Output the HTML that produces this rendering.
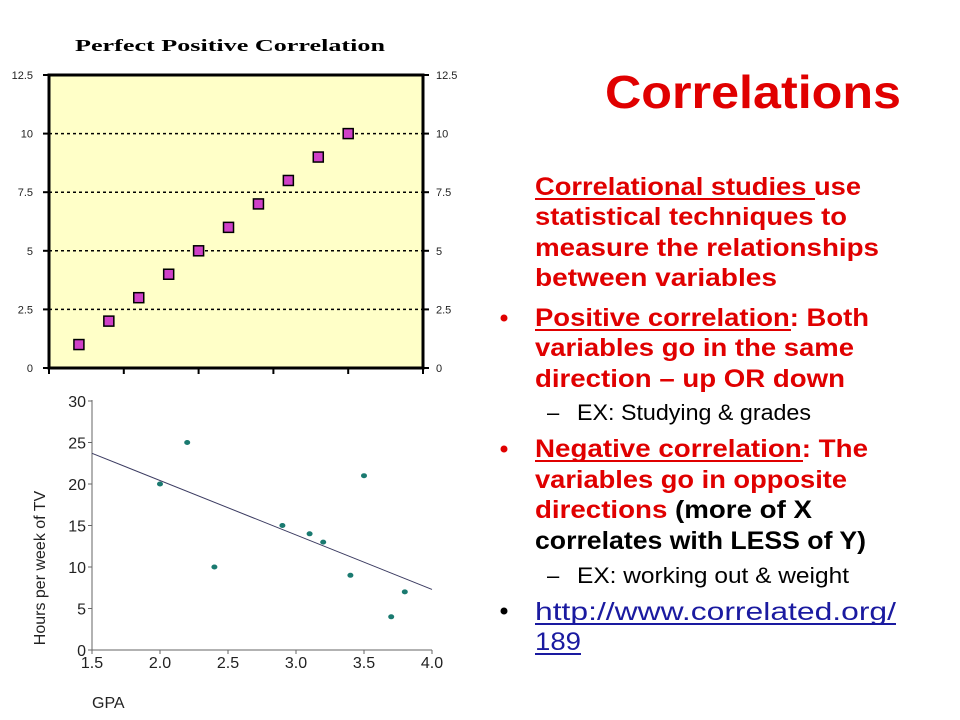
<!DOCTYPE html>
<html><head><meta charset="utf-8"><style>
html,body{margin:0;padding:0;background:#fff}
svg{display:block;font-family:"Liberation Sans",sans-serif}
</style></head><body>
<svg width="960" height="720" viewBox="0 0 960 720" xmlns="http://www.w3.org/2000/svg">
<rect width="960" height="720" fill="#fff"/>
<g id="topChart"></g>
<g id="botChart"></g>
<g font-weight="bold" font-size="25" fill="#e00000">
<text x="605" y="108" font-size="46" textLength="296" lengthAdjust="spacingAndGlyphs">Correlations</text>
<text x="535" y="195" textLength="326" lengthAdjust="spacingAndGlyphs">Correlational studies use</text>
<text x="535" y="225" textLength="312" lengthAdjust="spacingAndGlyphs">statistical techniques to</text>
<text x="535" y="256" textLength="344" lengthAdjust="spacingAndGlyphs">measure the relationships</text>
<text x="535" y="286" textLength="242" lengthAdjust="spacingAndGlyphs">between variables</text>
<text x="535" y="326" textLength="334" lengthAdjust="spacingAndGlyphs">Positive correlation: Both</text>
<text x="535" y="356" textLength="319" lengthAdjust="spacingAndGlyphs">variables go in the same</text>
<text x="535" y="387" textLength="310" lengthAdjust="spacingAndGlyphs">direction – up OR down</text>
<text x="535" y="457" textLength="333" lengthAdjust="spacingAndGlyphs">Negative correlation: The</text>
<text x="535" y="488" textLength="312" lengthAdjust="spacingAndGlyphs">variables go in opposite</text>
<text x="535" y="518" textLength="277" lengthAdjust="spacingAndGlyphs">directions <tspan fill="#000">(more of X</tspan></text>
<text x="535" y="549" fill="#000" textLength="331" lengthAdjust="spacingAndGlyphs">correlates with LESS of Y)</text>
<g font-weight="normal" fill="#000" font-size="22">
<text x="547" y="420">–</text><text x="577" y="420" textLength="234" lengthAdjust="spacingAndGlyphs">EX: Studying &amp; grades</text>
<text x="547" y="583">–</text><text x="577" y="583" textLength="272" lengthAdjust="spacingAndGlyphs">EX: working out &amp; weight</text>
</g>
<g font-weight="normal" fill="#1a1aa0">
<text x="535" y="620" textLength="361" lengthAdjust="spacingAndGlyphs">http://www.correlated.org/</text>
<text x="535" y="650" textLength="46" lengthAdjust="spacingAndGlyphs">189</text>
</g>
<g fill="#e00000"><circle cx="504" cy="318" r="3.5"/><circle cx="504" cy="449" r="3.5"/></g>
<circle cx="504" cy="611" r="3.5" fill="#000"/>
<g stroke-width="2">
<line x1="535" y1="199" x2="815" y2="199" stroke="#e00000"/>
<line x1="535" y1="330" x2="791" y2="330" stroke="#e00000"/>
<line x1="535" y1="461" x2="803" y2="461" stroke="#e00000"/>
<line x1="535" y1="624" x2="896" y2="624" stroke="#1a1aa0"/>
<line x1="535" y1="654" x2="581" y2="654" stroke="#1a1aa0"/>
</g>
</g>
</svg>
<script>
const NS="http://www.w3.org/2000/svg";
function mk(p,tag,a){const e=document.createElementNS(NS,tag);for(const k in a)e.setAttribute(k,a[k]);p.appendChild(e);return e;}
// top chart data
const topX=[1,2,3,4,5,6,7,8,9,10];
const topY=[1,2,3,4,5,6,7,8,9,10];
const topTicks=[0,2.5,5,7.5,10,12.5];
const topTickLabels=["0","2.5","5","7.5","10","12.5"];
// bottom chart data
const gpa=[2.0,2.2,2.4,2.9,3.1,3.2,3.4,3.5,3.7,3.8];
const tvHours=[20,25,10,15,14,13,9,21,4,7];
const fitLine=[23.7,7.3];
const yTicksB=[0,5,10,15,20,25,30];
const xTicksB=[1.5,2.0,2.5,3.0,3.5,4.0];
const xTickLabelsB=["1.5","2.0","2.5","3.0","3.5","4.0"];

const topG=document.getElementById('topChart');
const tx=v=>49+v*(374/12.5), ty=v=>368-v*(293/12.5);
let t=mk(topG,'text',{x:230,y:51,'text-anchor':'middle','font-family':'Liberation Serif,serif','font-weight':'bold','font-size':17,textLength:310,lengthAdjust:'spacingAndGlyphs'});
t.textContent="Perfect Positive Correlation";


mk(topG,'rect',{x:49,y:75,width:374,height:293,fill:'#ffffc8'});
topTicks.forEach((v,i)=>{
 if(v>0&&v<12.5){const g=mk(topG,'line',{x1:49,x2:423,y1:ty(v),y2:ty(v),stroke:'#000','stroke-width':1.5,'stroke-dasharray':'3,3'});
  
  }
 mk(topG,'line',{x1:43,x2:49,y1:ty(v),y2:ty(v),stroke:'#000','stroke-width':2});
 mk(topG,'line',{x1:423,x2:429,y1:ty(v),y2:ty(v),stroke:'#000','stroke-width':2});
 const l=mk(topG,'text',{x:33,y:ty(v)+4,'text-anchor':'end','font-size':11,fill:'#222'});l.textContent=topTickLabels[i];
 
 
 const r=mk(topG,'text',{x:436,y:ty(v)+4,'font-size':11,fill:'#222'});r.textContent=topTickLabels[i];
 
 
});
topTicks.forEach(v=>mk(topG,'line',{x1:tx(v),x2:tx(v),y1:368,y2:374,stroke:'#000','stroke-width':2}));
mk(topG,'rect',{x:49,y:75,width:374,height:293,fill:'none',stroke:'#000','stroke-width':3});
topX.forEach((x,i)=>{const s=mk(topG,'rect',{x:tx(x)-5,y:ty(topY[i])-5,width:10,height:10,fill:'#d040c8',stroke:'#000','stroke-width':1.5});
 
 });

const botG=document.getElementById('botChart');
mk(botG,'rect',{x:0,y:383,width:458,height:337,fill:'#fff'});
const bx=v=>92+(v-1.5)*(340/2.5), by=v=>650-v*(249/30);
mk(botG,'line',{x1:92,y1:400,x2:92,y2:650,stroke:'#666'});
mk(botG,'line',{x1:92,y1:650,x2:432,y2:650,stroke:'#666'});
yTicksB.forEach(v=>{mk(botG,'line',{x1:88,x2:92,y1:by(v),y2:by(v),stroke:'#666'});
 const l=mk(botG,'text',{x:86,y:by(v)+6,'text-anchor':'end','font-size':16,fill:'#222'});l.textContent=String(v);
 
 });
xTicksB.forEach((v,i)=>{mk(botG,'line',{x1:bx(v),x2:bx(v),y1:650,y2:654,stroke:'#666'});
 const l=mk(botG,'text',{x:bx(v),y:668,'text-anchor':'middle','font-size':16,fill:'#222'});l.textContent=xTickLabelsB[i];
 
 });
let xl=mk(botG,'text',{x:92,y:708,'font-size':16,fill:'#222'});xl.textContent="GPA";


let yl=mk(botG,'text',{x:0,y:0,'font-size':16,fill:'#222',transform:'translate(45,568) rotate(-90)','text-anchor':'middle'});yl.textContent="Hours per week of TV";


const fl=mk(botG,'line',{x1:bx(1.5),y1:by(fitLine[0]),x2:bx(4.0),y2:by(fitLine[1]),stroke:'#3a3a60','stroke-width':1});


gpa.forEach((g,i)=>{const c=mk(botG,'ellipse',{cx:bx(g),cy:by(tvHours[i]),rx:3,ry:2.5,fill:'#1a7a70'});
 
 });
</script>
</body></html>
